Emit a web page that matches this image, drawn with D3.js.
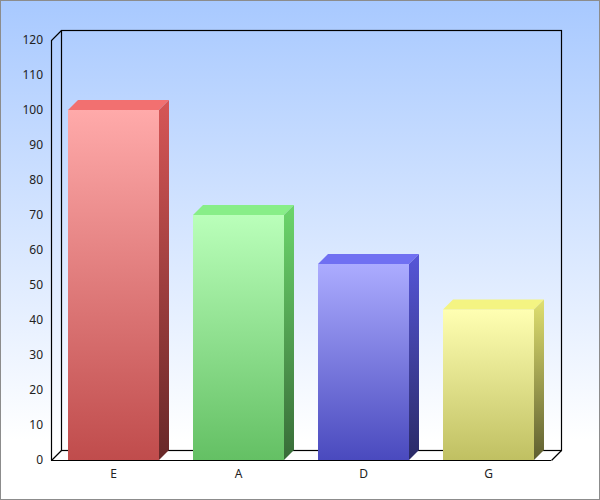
<!DOCTYPE html>
<html>
<head>
<meta charset="utf-8">
<script src="https://cdn.jsdelivr.net/npm/d3@7"></script>
<style>
  html, body { margin: 0; padding: 0; background: #fff; }
  svg { display: block; }
</style>
</head>
<body>
<div id="chart"></div>
<script>
// chart data
const categories = ['E', 'A', 'D', 'G']
const values = [100, 70, 56, 43]
const yTicks = [0, 10, 20, 30, 40, 50, 60, 70, 80, 90, 100, 110, 120]

// colour sets per bar: front top/bottom, top face, side top/bottom
const barColors = [
  { frontTop: '#ffaaaa', frontBottom: '#c04c4c', top: '#f27070', sideTop: '#d65656', sideBottom: '#682828' },
  { frontTop: '#baffba', frontBottom: '#64c064', top: '#88ee88', sideTop: '#6cd66c', sideBottom: '#386c38' },
  { frontTop: '#acacff', frontBottom: '#4a4abe', top: '#7070f2', sideTop: '#5656d8', sideBottom: '#2a2a66' },
  { frontTop: '#ffffb2', frontBottom: '#c0c062', top: '#f4f482', sideTop: '#e0e070', sideBottom: '#5e5e30' }
]

const width = 600
const height = 500
const plot = { left: 51, right: 551, top: 40, bottom: 460 }
const depth = 10
const fontFamily = 'Noto Sans, DejaVu Sans, sans-serif'

const svg = d3.select('#chart')
  .append('svg')
  .attr('width', width)
  .attr('height', height)

const defs = svg.append('defs')

const bg = defs.append('linearGradient')
  .attr('id', 'bgGrad')
  .attr('x1', 0).attr('y1', 0).attr('x2', 0).attr('y2', 1)
bg.append('stop').attr('offset', '0%').attr('stop-color', '#a8c9ff')
bg.append('stop').attr('offset', '88%').attr('stop-color', '#ffffff')
bg.append('stop').attr('offset', '100%').attr('stop-color', '#ffffff')

barColors.forEach((c, i) => {
  const f = defs.append('linearGradient')
    .attr('id', 'front' + i)
    .attr('x1', 0).attr('y1', 0).attr('x2', 0).attr('y2', 1)
  f.append('stop').attr('offset', '0%').attr('stop-color', c.frontTop)
  f.append('stop').attr('offset', '100%').attr('stop-color', c.frontBottom)

  const s = defs.append('linearGradient')
    .attr('id', 'side' + i)
    .attr('x1', 0).attr('y1', 0).attr('x2', 0).attr('y2', 1)
  s.append('stop').attr('offset', '0%').attr('stop-color', c.sideTop)
  s.append('stop').attr('offset', '100%').attr('stop-color', c.sideBottom)
})

// background + border
svg.append('rect')
  .attr('x', 0.5).attr('y', 0.5)
  .attr('width', width - 1).attr('height', height - 1)
  .attr('fill', 'url(#bgGrad)')
  .attr('stroke', '#8c8c8c')
  .attr('stroke-width', 1)

const x = d3.scaleBand()
  .domain(categories)
  .range([plot.left, plot.right])
  .paddingInner(0.272)
  .paddingOuter(0.136)

const y = d3.scaleLinear()
  .domain([0, 120])
  .range([plot.bottom, plot.top])

// floor (white)
svg.append('path')
  .attr('d', `M${plot.left},${plot.bottom} L${plot.left + depth},${plot.bottom - depth} L${plot.right + depth},${plot.bottom - depth} L${plot.right},${plot.bottom} Z`)
  .attr('fill', '#ffffff')
  .attr('stroke', 'none')

// back wall frame
const frame = svg.append('g')
  .attr('fill', 'none')
  .attr('stroke', '#000')
  .attr('stroke-width', 1.2)

frame.append('rect')
  .attr('x', plot.left + depth + 0.5)
  .attr('y', plot.top - depth + 0.5)
  .attr('width', plot.right - plot.left)
  .attr('height', plot.bottom - plot.top)

// left wall + floor edges
frame.append('path')
  .attr('d', `M${plot.left + 0.5},${plot.bottom + 0.5} L${plot.left + 0.5},${plot.top + 0.5} L${plot.left + depth + 0.5},${plot.top - depth + 0.5}`)
frame.append('path')
  .attr('d', `M${plot.left + 0.5},${plot.bottom + 0.5} L${plot.left + depth + 0.5},${plot.bottom - depth + 0.5}`)
frame.append('path')
  .attr('d', `M${plot.right + 0.5},${plot.bottom + 0.5} L${plot.right + depth + 0.5},${plot.bottom - depth + 0.5}`)

// bars
const bars = svg.append('g').attr('class', 'bars')
const data = categories.map((c, i) => ({ cat: c, value: values[i], i }))

const gBar = bars.selectAll('g.bar')
  .data(data)
  .enter()
  .append('g')
  .attr('class', 'bar')

gBar.append('rect')
  .attr('x', d => x(d.cat))
  .attr('y', d => y(d.value))
  .attr('width', x.bandwidth())
  .attr('height', d => y(0) - y(d.value))
  .attr('fill', d => `url(#front${d.i})`)

gBar.append('path')
  .attr('d', d => {
    const x0 = x(d.cat), x1 = x0 + x.bandwidth(), yt = y(d.value)
    return `M${x0},${yt} L${x0 + depth},${yt - depth} L${x1 + depth},${yt - depth} L${x1},${yt} Z`
  })
  .attr('fill', d => barColors[d.i].top)

gBar.append('path')
  .attr('d', d => {
    const x1 = x(d.cat) + x.bandwidth(), yt = y(d.value), yb = y(0)
    return `M${x1},${yt} L${x1 + depth},${yt - depth} L${x1 + depth},${yb - depth} L${x1},${yb} Z`
  })
  .attr('fill', d => `url(#side${d.i})`)

// front bottom axis line drawn over the bars
svg.append('line')
  .attr('x1', plot.left).attr('x2', plot.right)
  .attr('y1', plot.bottom + 0.5).attr('y2', plot.bottom + 0.5)
  .attr('stroke', '#000')
  .attr('stroke-width', 1.2)

// y axis labels
const yAxis = d3.axisLeft(y)
  .tickValues(yTicks)
  .tickSize(0)
  .tickPadding(8)

const gY = svg.append('g')
  .attr('transform', `translate(${plot.left},0)`)
  .call(yAxis)
gY.select('.domain').remove()
gY.selectAll('.tick text')
  .attr('font-family', fontFamily)
  .attr('font-size', 12)
  .style('fill', '#222')

// x axis labels
const xAxis = d3.axisBottom(x)
  .tickSize(0)
  .tickPadding(9)

const gX = svg.append('g')
  .attr('transform', `translate(0,${plot.bottom})`)
  .call(xAxis)
gX.select('.domain').remove()
gX.selectAll('.tick text')
  .attr('font-family', fontFamily)
  .attr('font-size', 12)
  .style('fill', '#222')
</script>
</body>
</html>
